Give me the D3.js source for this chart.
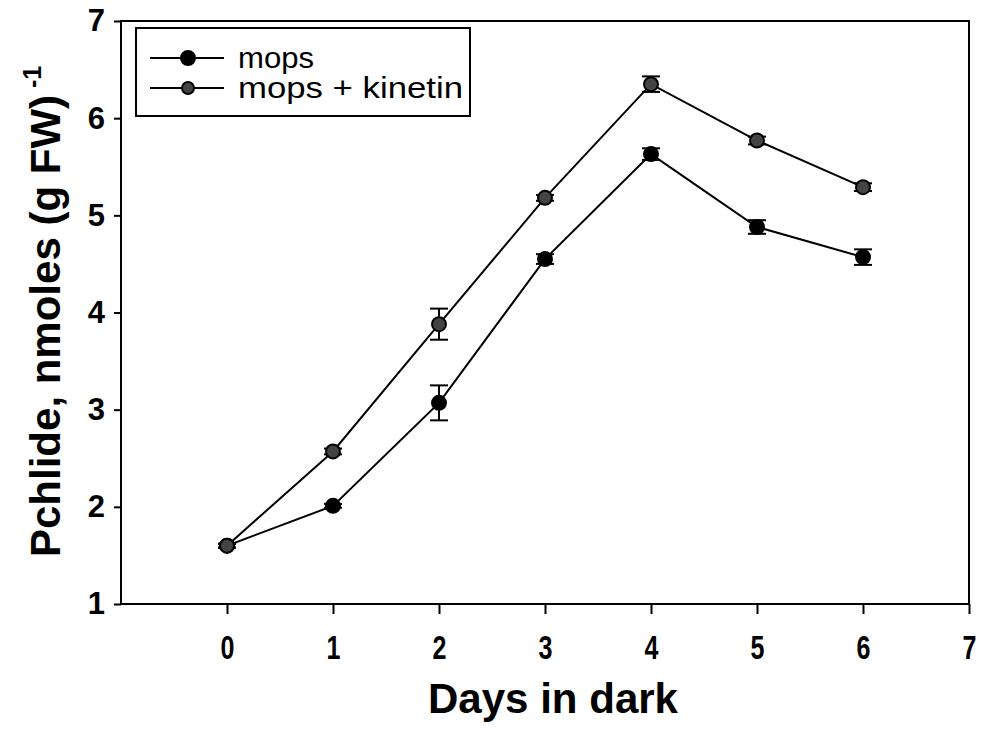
<!DOCTYPE html>
<html><head><meta charset="utf-8">
<script src="https://cdn.jsdelivr.net/npm/d3@7"></script>
<style>body{margin:0;background:#fff}svg{display:block}</style>
</head><body>
<svg id="chart" width="983" height="735"></svg>
<script>
const days = [0, 1, 2, 3, 4, 5, 6];
const mops = [1.60, 2.01, 3.07, 4.55, 5.63, 4.88, 4.57];
const mopsErr = [0.02, 0.02, 0.18, 0.05, 0.06, 0.07, 0.08];
const kinetin = [1.60, 2.57, 3.88, 5.18, 6.35, 5.77, 5.29];
const kinetinErr = [0.02, 0.03, 0.16, 0.03, 0.08, 0.04, 0.04];
const xTicks = [0, 1, 2, 3, 4, 5, 6, 7];
const yTicks = [1, 2, 3, 4, 5, 6, 7];
const seriesNames = ["mops", "mops + kinetin"];

const svg = d3.select("#chart");
const L = 121, R = 969, T = 21, B = 604;
const x = d3.scaleLinear().domain([-1, 7]).range([L, R]);
const y = d3.scaleLinear().domain([1, 7]).range([B, T]);
const font = "'Liberation Sans', Arial, sans-serif";

// frame
svg.append("rect").attr("x", L).attr("y", T).attr("width", R - L).attr("height", B - T)
  .attr("fill", "none").attr("stroke", "#000").attr("stroke-width", 2);

const xa = svg.append("g").attr("transform", `translate(0,${B})`)
  .call(d3.axisBottom(x).tickValues(xTicks).tickSize(10).tickPadding(22).tickFormat(d3.format("d")));
const ya = svg.append("g").attr("transform", `translate(${L},0)`)
  .call(d3.axisLeft(y).tickValues(yTicks).tickSize(7).tickPadding(9).tickFormat(d3.format("d")));
[xa, ya].forEach(a => {
  a.select(".domain").remove();
  a.attr("font-size", null).attr("font-family", null);
  a.selectAll(".tick line").attr("stroke", "#000").attr("stroke-width", 2);
  a.selectAll(".tick text").attr("fill", "#000").attr("font-family", font)
    .attr("font-weight", "bold").attr("font-size", 31);
});
xa.selectAll(".tick text").attr("font-size", 33).attr("transform", "scale(0.76,1)");

// titles
svg.append("text").attr("x", 553).attr("y", 713).attr("text-anchor", "middle")
  .attr("textLength", 250).attr("lengthAdjust", "spacingAndGlyphs")
  .style("font-family", font).style("font-weight", "bold").style("font-size", "42px")
  .text("Days in dark");
const yt = svg.append("text").attr("transform", "translate(60,557) rotate(-90)")
  .attr("text-anchor", "start").style("font-family", font).style("font-weight", "bold")
  .style("font-size", "42px");
yt.append("tspan").text("Pchlide, nmoles (g FW)");
yt.append("tspan").attr("dy", -19).style("font-size", "25px").text(" -1");

const line = d3.line().x((d, i) => x(days[i])).y(d => y(d));
const series = [
  {vals: mops, err: mopsErr, fill: "#000"},
  {vals: kinetin, err: kinetinErr, fill: "#444"}
];
series.forEach(s => {
  svg.append("path").datum(s.vals).attr("d", line).attr("fill", "none")
    .attr("stroke", "#000").attr("stroke-width", 2);
  const g = svg.append("g");
  s.vals.forEach((v, i) => {
    const cx = x(days[i]);
    const y1 = y(v + s.err[i]), y0 = y(v - s.err[i]);
    g.append("line").attr("x1", cx).attr("x2", cx).attr("y1", y1).attr("y2", y0).attr("stroke", "#000").attr("stroke-width", 2);
    [y1, y0].forEach(yy => g.append("line").attr("x1", cx - 9).attr("x2", cx + 9).attr("y1", yy).attr("y2", yy).attr("stroke", "#000").attr("stroke-width", 2));
  });
  g.selectAll("circle").data(s.vals).enter().append("circle")
    .attr("cx", (d, i) => x(days[i])).attr("cy", d => y(d)).attr("r", 7)
    .attr("fill", s.fill).attr("stroke", "#000").attr("stroke-width", 2);
});

// legend
const lg = svg.append("g");
lg.append("rect").attr("x", 136).attr("y", 28).attr("width", 334).attr("height", 88)
  .attr("fill", "#fff").attr("stroke", "#000").attr("stroke-width", 2);
const legendWidths = [76, 225];
seriesNames.forEach((n, i) => {
  const yy = 58 + i * 30;
  lg.append("line").attr("x1", 150).attr("x2", 224).attr("y1", yy).attr("y2", yy).attr("stroke", "#000").attr("stroke-width", 2);
  lg.append("circle").attr("cx", 188).attr("cy", yy).attr("r", i === 0 ? 7 : 6)
    .attr("fill", series[i].fill).attr("stroke", "#000").attr("stroke-width", 2);
  lg.append("text").attr("x", 238).attr("y", yy + 10).style("font-family", font)
    .attr("textLength", legendWidths[i]).attr("lengthAdjust", "spacingAndGlyphs")
    .style("font-size", "30px").attr("fill", "#000").text(n);
});
</script>
</body></html>
